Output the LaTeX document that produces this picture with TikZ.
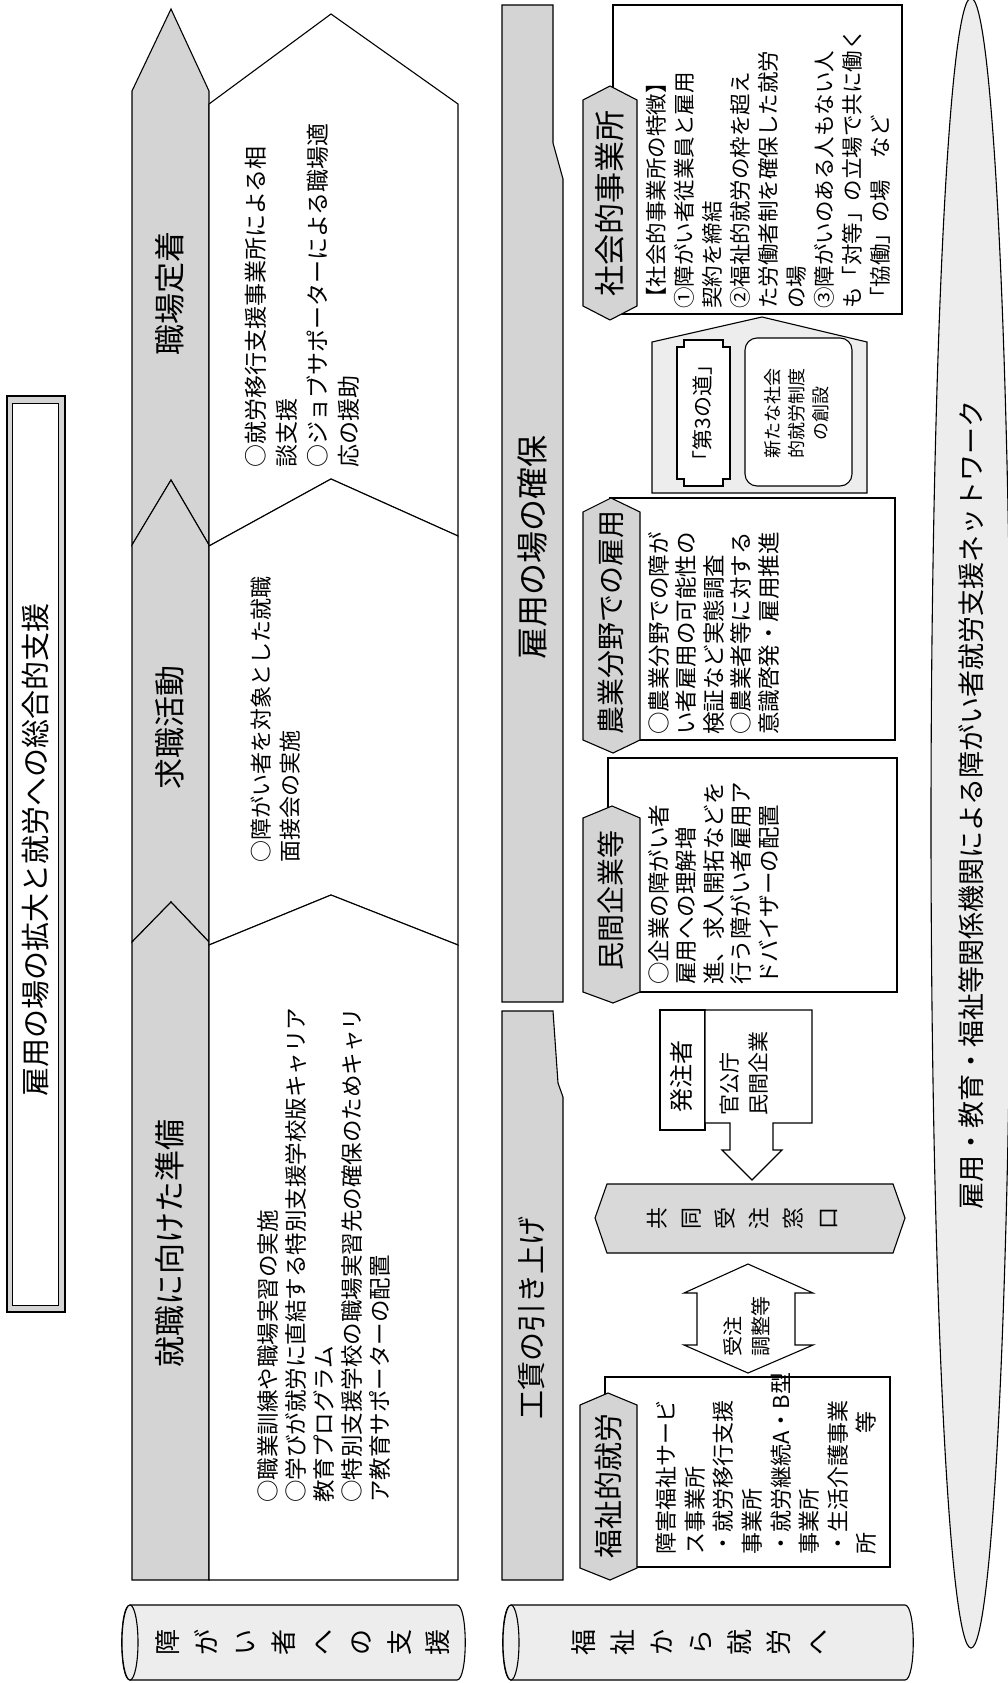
\documentclass[tikz,border=0pt]{standalone}
\usepackage{fontspec}
\setmainfont{Noto Sans CJK JP}
\newcommand{\myfs}[2]{\fontsize{#1}{#2}\selectfont}
\definecolor{hdrgray}{gray}{0.83}
\definecolor{lightdot}{gray}{0.93}
\definecolor{midgray}{gray}{0.85}
\begin{document}
\begin{tikzpicture}[x=1pt,y=-1pt, line join=miter,
  outl/.style={draw=black, line width=1.1pt},
  hdr/.style={outl, fill=hdrgray},
  bodyshape/.style={outl, fill=white},
  tagshape/.style={outl, fill=hdrgray},
  rtxt/.style={rotate=90, inner sep=0pt, align=left, anchor=north west},
  ctxt/.style={rotate=90, inner sep=0pt, align=center},
]
\useasboundingbox (0,0) rectangle (1007,1683);
\fill[white] (0,0) rectangle (1007,1683);

% ---------- title ----------
\draw[outl, fill=hdrgray] (7,396) rectangle (65,1312);
\draw[outl, fill=white, line width=0.8pt] (12,403) rectangle (58,1305);
\node[ctxt, font=\myfs{29}{36}] (title) at (35,850) {雇用の場の拡大と就労への総合的支援};

% ---------- row 1 : headers ----------
\draw[hdr] (132,91) -- (171,9) -- (209,91) -- (209,545) -- (171,480) -- (132,545) -- cycle;
\draw[hdr] (132,545) -- (171,480) -- (209,545) -- (209,942) -- (171,902) -- (132,942) -- cycle;
\draw[hdr] (132,942) -- (171,902) -- (209,942) -- (209,1580) -- (132,1580) -- cycle;
\node[ctxt, font=\myfs{31}{36}] (h3) at (170,293) {職場定着};
\node[ctxt, font=\myfs{31}{36}] (h2) at (170,727) {求職活動};
\node[ctxt, font=\myfs{31}{36}] (h1) at (170,1243) {就職に向けた準備};

% ---------- row 1 : bodies ----------
\draw[bodyshape] (209,104) -- (331,14) -- (458,104) -- (458,536) -- (331,479) -- (209,546) -- cycle;
\draw[bodyshape] (209,546) -- (331,479) -- (458,536) -- (458,945) -- (331,895) -- (209,945) -- cycle;
\draw[bodyshape] (209,945) -- (331,895) -- (458,945) -- (458,1580) -- (209,1580) -- cycle;
\node[rtxt, font=\myfs{23}{31}] (b3) at (245,468)
  {○就労移行支援事業所による相\\談支援\\○ジョブサポーターによる職場適\\応の援助};
\node[rtxt, font=\myfs{22}{29}] (b2) at (251,863)
  {○障がい者を対象とした就職\\面接会の実施};
\node[rtxt, font=\myfs{22.5}{28}] (b1) at (257,1503)
  {○職業訓練や職場実習の実施\\○学びが就労に直結する特別支援学校版キャリア\\教育プログラム\\○特別支援学校の職場実習先の確保のためキャリ\\ア教育サポーターの配置};

% ---------- row 2 : headers ----------
\draw[hdr] (502,5) -- (553,5) -- (553,143) -- (563,179) -- (563,1002) -- (502,1002) -- cycle;
\draw[hdr] (502,1011) -- (553,1011) -- (558,1083) -- (563,1097) -- (563,1580) -- (502,1580) -- cycle;
\node[ctxt, font=\myfs{32}{36}] (r2a) at (532,547) {雇用の場の確保};
\node[ctxt, font=\myfs{29}{36}] (r2b) at (532,1318) {工賃の引き上げ};

% ---------- social enterprise ----------
\draw[bodyshape] (613,5) rectangle (902,314);
\draw[tagshape] (583,100) -- (610,86) -- (637,100) -- (637,306) -- (610,320) -- (583,306) -- cycle;
\node[ctxt, font=\myfs{31}{36}] (tagsoc) at (610,203) {社会的事業所};
\node[rtxt, font=\myfs{21.5}{28}] (bsoc) at (646,309)
  {【社会的事業所の特徴】\\①障がい者従業員と雇用\\契約を締結\\②福祉的就労の枠を超え\\た労働者制を確保した就労\\の場\\③障がいのある人もない人\\も「対等」の立場で共に働く\\「協働」の場　など};

% ---------- third way ----------
\draw[outl, fill=lightdot] (652,493) -- (652,342) -- (762,317) -- (867,342) -- (867,493) -- cycle;
\draw[outl, fill=white] (684,340) -- (723,340) -- (723,347) -- (730,347) -- (730,479) -- (723,479)
  -- (723,486) -- (684,486) -- (684,479) -- (677,479) -- (677,347) -- (684,347) -- cycle;
\node[ctxt, font=\myfs{21}{26}] (third) at (703,413) {「第3の道」};
\draw[outl, fill=white, rounded corners=12pt] (745,338) rectangle (852,486);
\node[ctxt, font=\myfs{18}{24}] (newsys) at (797,413) {新たな社会\\的就労制度\\の創設};

% ---------- agriculture ----------
\draw[bodyshape] (610,498) rectangle (895,740);
\draw[tagshape] (583,512) -- (611,498) -- (640,512) -- (640,740) -- (613,753) -- (583,740) -- cycle;
\node[ctxt, font=\myfs{28}{36}] (tagagr) at (611,622) {農業分野での雇用};
\node[rtxt, font=\myfs{22.5}{27.5}] (bagr) at (648,735)
  {○農業分野での障が\\い者雇用の可能性の\\検証など実態調査\\○農業者等に対する\\意識啓発・雇用推進};

% ---------- private companies ----------
\draw[bodyshape] (608,758) rectangle (897,992);
\draw[tagshape] (583,818) -- (612,806) -- (640,818) -- (640,992) -- (613,1003) -- (583,992) -- cycle;
\node[ctxt, font=\myfs{28}{36}] (tagpriv) at (611,900) {民間企業等};
\node[rtxt, font=\myfs{22.5}{27.5}] (bpriv) at (648,985)
  {○企業の障がい者\\雇用への理解増\\進、求人開拓などを\\行う障がい者雇用ア\\ドバイザーの配置};

% ---------- orderer ----------
\draw[outl, fill=white] (660,1010) rectangle (705,1130);
\node[ctxt, font=\myfs{24}{28}] (orderer) at (681,1076) {発注者};
\draw[outl, fill=white] (705,1010) -- (812,1010) -- (812,1123) -- (773,1123) -- (773,1150) -- (782,1150)
  -- (752,1180) -- (722,1150) -- (730,1150) -- (730,1123) -- (705,1123) -- cycle;
\node[rtxt, font=\myfs{21}{29}] (ordlist) at (720,1116) {官公庁\\民間企業};

% ---------- joint order window ----------
\draw[outl, fill=midgray] (595,1218) -- (607,1184) -- (893,1184) -- (905,1218) -- (893,1253) -- (607,1253) -- cycle;
\node[ctxt, font=\myfs{22}{34.2}] (window) at (742,1218) {共\\同\\受\\注\\窓\\口};

% ---------- double arrow ----------
\draw[outl, fill=white] (748,1264) -- (813,1293) -- (795,1293) -- (795,1345) -- (813,1345) -- (748,1373)
  -- (684,1345) -- (697,1345) -- (697,1293) -- (684,1293) -- cycle;
\node[rtxt, font=\myfs{20}{28}] (adjust) at (723,1357) {受注\\調整等};

% ---------- welfare work ----------
\draw[bodyshape] (605,1377) rectangle (890,1567);
\draw[tagshape] (580,1405) -- (608,1393) -- (637,1405) -- (637,1568) -- (610,1580) -- (580,1568) -- cycle;
\node[ctxt, font=\myfs{29}{36}] (tagwel) at (608,1486) {福祉的就労};
\node[rtxt, font=\myfs{22}{28.6}] (bwel) at (656,1555)
  {障害福祉サービ\\ス事業所\\・就労移行支援\\事業所\\・就労継続A・B型\\事業所\\・生活介護事業\\所\hspace{4.5em}等};

% ---------- cylinders ----------
\draw[outl, fill=lightdot] (130,1605) -- (457,1605) .. controls (468,1605) and (468,1680) .. (457,1680)
  -- (130,1680) .. controls (119,1680) and (119,1605) .. (130,1605) -- cycle;
\draw[outl, fill=lightdot] (130,1642.5) ellipse [x radius=8, y radius=37.5];
\node[ctxt, font=\myfs{26}{38.6}] (cyl1) at (303,1642) {障\\が\\い\\者\\へ\\の\\支\\援};

\draw[outl, fill=lightdot] (511,1605) -- (905,1605) .. controls (916,1605) and (916,1680) .. (905,1680)
  -- (511,1680) .. controls (500,1680) and (500,1605) .. (511,1605) -- cycle;
\draw[outl, fill=lightdot] (511,1642.5) ellipse [x radius=8, y radius=37.5];
\node[ctxt, font=\myfs{26}{39}] (cyl2) at (700,1642) {福\\祉\\か\\ら\\就\\労\\へ};

% ---------- network ellipse ----------
\draw[outl, fill=lightdot] (971,823) ellipse [x radius=40, y radius=825];
\node[ctxt, font=\myfs{27}{32}] (network) at (971,805) {雇用・教育・福祉等関係機関による障がい者就労支援ネットワーク};
\end{tikzpicture}
\end{document}
